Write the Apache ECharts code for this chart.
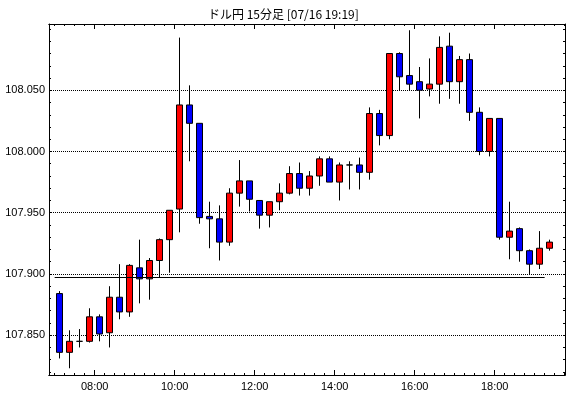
<!DOCTYPE html>
<html>
<head>
<meta charset="utf-8">
<title>ドル円 15分足</title>
<script src="https://cdn.jsdelivr.net/npm/echarts@6/dist/echarts.min.js"></script>
<style>
html, body { margin: 0; padding: 0; background: #fff; }
#chart { width: 570px; height: 398px; }
</style>
</head>
<body>
<div id="chart"></div>
<script>
// 15分足 (start time of each bar)
var times = ['07:00','07:15','07:30','07:45','08:00','08:15','08:30','08:45','09:00','09:15',
             '09:30','09:45','10:00','10:15','10:30','10:45','11:00','11:15','11:30','11:45',
             '12:00','12:15','12:30','12:45','13:00','13:15','13:30','13:45','14:00','14:15',
             '14:30','14:45','15:00','15:15','15:30','15:45','16:00','16:15','16:30','16:45',
             '17:00','17:15','17:30','17:45','18:00','18:15','18:30','18:45','19:00','19:15'];
var opens  = [107.884,107.836,107.845,107.845,107.865,107.852,107.881,107.869,107.905,107.896,
              107.911,107.928,107.953,108.038,108.023,107.947,107.945,107.926,107.966,107.976,
              107.960,107.948,107.959,107.966,107.982,107.970,107.980,107.994,107.975,107.989,
              107.989,107.983,108.031,108.013,108.080,108.062,108.057,108.051,108.055,108.086,
              108.057,108.075,108.032,108.000,108.027,107.930,107.937,107.919,107.908,107.921];
var closes = [107.836,107.845,107.845,107.865,107.851,107.881,107.869,107.907,107.896,107.911,
              107.928,107.952,108.038,108.023,107.946,107.945,107.926,107.966,107.976,107.961,
              107.948,107.959,107.966,107.982,107.970,107.980,107.994,107.975,107.989,107.989,
              107.983,108.031,108.013,108.080,108.061,108.055,108.050,108.055,108.085,108.057,
              108.075,108.032,108.000,108.027,107.930,107.935,107.919,107.908,107.921,107.926];
var lows   = [107.831,107.823,107.840,107.844,107.845,107.840,107.863,107.865,107.876,107.879,
              107.897,107.901,107.934,107.992,107.941,107.921,107.911,107.923,107.955,107.951,
              107.937,107.938,107.952,107.965,107.964,107.964,107.972,107.975,107.960,107.969,
              107.969,107.977,108.005,108.010,108.050,108.050,108.027,108.045,108.039,108.043,
              108.039,108.025,107.997,107.996,107.928,107.912,107.910,107.900,107.904,107.919];
var highs  = [107.886,107.854,107.855,107.872,107.867,107.890,107.908,107.908,107.928,107.913,
              107.929,107.952,108.093,108.054,108.023,107.959,107.956,107.970,107.993,107.976,
              107.960,107.959,107.974,107.988,107.991,107.984,107.996,107.996,107.991,107.992,
              107.995,108.036,108.034,108.080,108.081,108.099,108.069,108.076,108.094,108.097,
              108.078,108.080,108.036,108.027,108.027,107.959,107.938,107.920,107.935,107.928];

// reference line (solid)
var refLevel = 107.897;
var refFrom = '07:00', refTo = '19:15';

// axis labels
var xLabels = ['08:00','10:00','12:00','14:00','16:00','18:00'];
var yLabels = [107.850, 107.900, 107.950, 108.000, 108.050];

function toMin(s) {
    var p = s.split(':');
    return parseInt(p[0], 10) * 60 + parseInt(p[1], 10);
}
function fmtMin(v) {
    var h = Math.floor(v / 60), m = Math.round(v % 60);
    return (h < 10 ? '0' : '') + h + ':' + (m < 10 ? '0' : '') + m;
}

var xMin = 411.5, xMax = 1185.5;
var yMin = 107.8175, yMax = 108.1041;

var xMajor = xLabels.map(toMin);
var xMinor = [];
for (var t = 420; t < xMax; t += 15) xMinor.push(t);
var yMinor = [];
for (var k = 10782; k <= 10810; k++) yMinor.push(k / 100);

var candles = times.map(function (t, i) {
    // bars are drawn at the middle of their 15 minute slot
    return [toMin(t) + 7.5, opens[i], closes[i], lows[i], highs[i]];
});

var labelFont = { color: '#000', fontSize: 11, fontFamily: 'Liberation Sans' };
var blackLine = { show: true, lineStyle: { color: '#000', width: 1 } };

function xAxisDef(pos, ticks, len, withLabel) {
    return {
        type: 'value', position: pos, min: xMin, max: xMax,
        axisLine: blackLine,
        axisTick: { show: true, inside: true, length: len, customValues: ticks,
                    lineStyle: { color: '#000' } },
        axisLabel: withLabel ? {
            show: true, customValues: xMajor, margin: 6,
            formatter: fmtMin,
            color: labelFont.color, fontSize: labelFont.fontSize, fontFamily: labelFont.fontFamily
        } : { show: false },
        splitLine: { show: false }
    };
}

var chart = echarts.init(document.getElementById('chart'));
chart.setOption({
    backgroundColor: '#fff',
    animation: false,
    title: {
        text: 'ドル円 15分足 [07/16 19:19]',
        left: 203, top: 3,
        textStyle: { color: '#000', fontSize: 12, fontWeight: 'normal', fontFamily: 'Noto Sans CJK JP' }
    },
    grid: { left: 49, right: 5, top: 24, bottom: 23, containLabel: false },
    xAxis: [
        xAxisDef('bottom', xMajor, 5, true),
        xAxisDef('bottom', xMinor, 2, false),
        xAxisDef('top', xMajor, 5, false),
        xAxisDef('top', xMinor, 2, false)
    ],
    yAxis: [
        {
            type: 'value', position: 'left', min: yMin, max: yMax,
            axisLine: blackLine,
            axisTick: { show: true, inside: true, length: 2, customValues: yMinor,
                        lineStyle: { color: '#000' } },
            axisLabel: {
                show: true, customValues: yLabels, margin: 4,
                formatter: function (v) { return v.toFixed(3); },
                color: labelFont.color, fontSize: labelFont.fontSize, fontFamily: labelFont.fontFamily
            },
            splitLine: { show: false }
        },
        {
            type: 'value', position: 'left', min: yMin, max: yMax,
            axisLine: { show: false },
            axisTick: { show: false, customValues: yLabels },
            axisLabel: { show: false },
            splitLine: { show: true, lineStyle: { color: '#000', type: 'dotted', width: 1 } }
        },
        {
            type: 'value', position: 'right', min: yMin, max: yMax,
            axisLine: blackLine,
            axisTick: { show: true, inside: true, length: 2, customValues: yMinor,
                        lineStyle: { color: '#000' } },
            axisLabel: { show: false },
            splitLine: { show: false }
        }
    ],
    series: [{
        type: 'candlestick',
        xAxisIndex: 0,
        yAxisIndex: 0,
        barWidth: 6,
        data: candles,
        itemStyle: {
            color: '#ff0000',
            color0: '#0000ff',
            borderColor: '#000',
            borderColor0: '#000',
            borderColorDoji: '#000',
            borderWidth: 1
        },
        markLine: {
            silent: true,
            symbol: 'none',
            label: { show: false },
            lineStyle: { color: '#000', width: 1, type: 'solid' },
            data: [[
                { coord: [toMin(refFrom), refLevel] },
                { coord: [toMin(refTo), refLevel] }
            ]]
        }
    }]
});
</script>
</body>
</html>
